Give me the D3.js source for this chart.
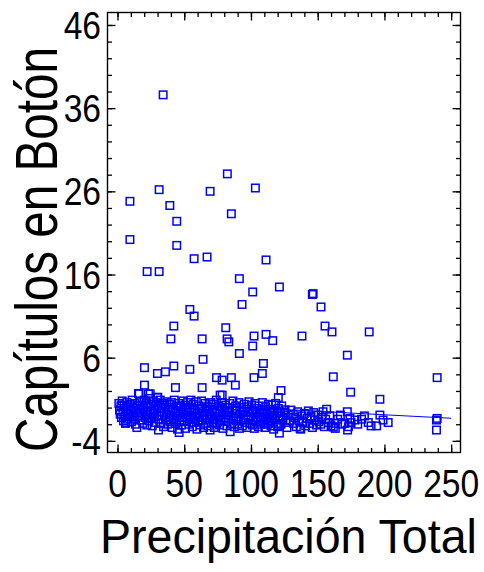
<!DOCTYPE html>
<html>
<head>
<meta charset="utf-8">
<script src="https://cdn.jsdelivr.net/npm/d3@7/dist/d3.min.js"></script>
<style>
  html, body { margin: 0; padding: 0; background: #fff; }
  svg { display: block; }
  text { font-family: "Liberation Sans", Arial, sans-serif; fill: #000; }
</style>
</head>
<body>
<svg id="chart" width="484" height="572"></svg>
<script>
// Axis ticks
const xTicks = [0, 50, 100, 150, 200, 250];
const yTicks = [-4, 6, 16, 26, 36, 46];
const xMinorStep = 10;
const yMinorStep = 2;

// Fitted line: intercept, slope
const ajuste = [0.80, -0.0083];
const ajusteRango = [0, 250];

// Observations: [Precipitación Total, Capítulos en Botón]
const puntosAltos = [
  [34.2, 37.6], [82.3, 28.1], [31.2, 26.2], [69.4, 26.0], [103.3, 26.4],
  [9.3, 24.8], [39.2, 24.3], [85.3, 23.3], [44.4, 22.4], [9.3, 20.2],
  [44.4, 19.5], [57.4, 17.9], [67.1, 18.1], [111.3, 17.75], [22.2, 16.35],
  [31.2, 16.35], [91.3, 15.5], [101.3, 13.9], [121.3, 14.5], [146.0, 13.6],
  [146.6, 13.7], [93.3, 12.4], [152.5, 12.1], [54.2, 11.8], [57.4, 11.0],
  [42.2, 9.8], [155.5, 9.8], [40.0, 8.26], [63.4, 8.26], [81.1, 9.6],
  [82.1, 8.26], [83.4, 7.9], [102.3, 8.6], [101.3, 7.4], [111.3, 8.8],
  [116.3, 8.05], [138.2, 8.6], [160.7, 9.1], [188.6, 9.1], [91.3, 6.5],
  [172.2, 6.3], [64.1, 5.8], [109.3, 5.3], [20.2, 4.8], [42.2, 5.0],
  [35.9, 4.3], [29.9, 4.1], [54.2, 4.6], [108.5, 4.1], [74.2, 3.6],
  [78.4, 3.3], [85.3, 3.6], [88.3, 2.7], [102.3, 3.6], [161.7, 3.7],
  [239.5, 3.6], [20.2, 2.7], [43.4, 2.4], [63.4, 2.4], [122.5, 2.05],
  [174.7, 1.85], [120.5, 1.2], [196.6, 1.0], [78.4, 1.5], [16.2, 1.65],
  [24.5, 1.65], [29.9, 1.2], [78.4, 0.6], [23.2, 1.65], [76.9, 1.5],
  [15.7, 1.7], [30.2, 1.25]
];

const puntosBajos = [
  [1, 0.5], [1.5, -0.3], [2, -0.8], [2.5, 0.2], [3, -1.2], [3.5, 0.8], [4, -0.5],
  [4.5, -1.6], [5, 0.3], [5.5, -1.0], [6, -1.9], [6.5, -0.2], [7, 0.6], [7.5, -1.4],
  [8, -0.7], [8.5, 0.1], [9, -1.1], [9.5, 0.4], [10, -0.4], [10.5, -1.7], [11, 0.9],
  [11.5, -0.9], [12, -0.1], [12.5, -1.3], [13, 0.5], [13.5, -2.0], [14, -0.6],
  [14.5, -2.4], [15, 0.2], [6.3, -1.8],
  [16, -1.0], [16.5, -0.3], [17, 0.7], [17.5, -1.5], [18, -0.8], [18.5, 0.3],
  [19, -1.9], [19.5, -0.1], [20, 0.9], [20.5, -1.2], [21, -0.5], [21.5, 0.5],
  [22, -2.1], [22.5, -0.9], [23, 0.1], [23.5, -1.6], [24, 1.1], [24.5, -0.4],
  [25, -1.3], [25.5, 0.4], [26, -2.2], [26.5, -0.7], [27, 0.8], [27.5, -1.1],
  [28, -0.2], [28.5, -1.8], [29, 0.6], [29.5, -0.9], [30.7, -2.7], [30.5, 0.2],
  [31, -1.4], [31.5, -0.5], [32, 0.9], [32.5, -1.9], [33, -0.1], [33.5, -1.0],
  [34, 0.5], [34.5, -2.3], [35, -0.6], [35.5, 0.3], [36, -1.5], [36.5, -0.8],
  [37, 0.7], [37.5, -2.0], [38, -0.3], [38.5, -1.2], [39, 0.4], [39.5, -1.7],
  [40, -0.9], [40.5, 0.6], [41, -2.4], [41.5, -0.2], [42, -1.3], [42.5, 0.9],
  [43, -0.6], [43.5, -1.9], [44, 0.2], [44.5, -1.0], [45, -2.6], [45.5, -0.4],
  [46, 0.5], [46.2, -3.0], [46.5, -1.5], [47, -0.8], [47.5, 0.1], [48, -2.1],
  [48.5, -1.1], [49, 0.8], [49.5, -0.5], [50, -1.7], [50.5, 0.3], [51, -2.5],
  [51.5, -0.2], [52, -1.2], [52.5, 0.6], [53, -0.9], [53.5, -2.0], [54, 0.0],
  [54.5, -1.4], [55, 0.9], [55.5, -0.6], [56, -2.3], [56.5, -1.0], [57, 0.4],
  [57.5, -1.8], [58, -0.3], [58.5, -1.3], [59, 0.7], [59.5, -2.6], [60, -0.7],
  [60.5, -1.6], [61, 0.2], [61.5, -1.1], [62, -2.1], [62.5, -0.1], [63, 0.8],
  [63.5, -1.5], [64, -0.5], [64.5, -2.4], [65, -0.9], [65.5, 0.5], [66, -1.9],
  [66.5, -0.3], [67, -1.2], [67.5, 0.1], [68, -2.2], [68.5, -0.7], [69, -1.4],
  [69.4, -2.7], [69.8, 0.6],
  [70.5, -1.0], [71, -0.2], [71.5, -1.8], [72, 0.4], [72.5, -2.4], [73, -0.6],
  [73.5, -1.3], [74, 0.9], [74.5, -1.9], [75, -0.4], [75.5, -1.1], [76, 0.2],
  [76.5, -2.1], [77, -0.8], [77.5, -1.5], [78, 0.6], [78.5, -0.1], [79, -2.5],
  [79.5, -1.2], [80, -0.5], [80.5, 0.3], [81, -1.7], [81.5, -0.9], [82, -2.2],
  [82.5, 0.0], [83, -1.4], [83.5, -0.6], [84, 0.5], [84.4, -2.9], [85, -1.0],
  [85.5, -1.9], [86, -0.3], [86.5, 0.8], [87, -1.3], [87.5, -2.3], [88, -0.7],
  [88.5, 0.2], [89, -1.6], [89.5, -0.4], [90, -2.0], [90.5, -1.1], [91, 0.6],
  [91.3, -2.5], [92, -0.8], [92.5, -1.5], [93, 0.0], [93.5, -2.2], [94, -0.5],
  [94.5, -1.2], [95, 0.4], [95.5, -1.8], [96, -0.9], [96.8, 0.1], [97, -2.4],
  [97.5, -0.2], [98, -1.4], [98.5, 0.7], [99, -0.6], [99.5, -1.9],
  [100, -1.1], [100.5, 0.3], [101, -2.1], [101.5, -0.4], [102, -1.5], [102.5, -2.5],
  [103, 0.5], [103.5, -0.8], [104, -1.7], [104.3, -0.1], [105, -1.2], [105.5, -2.3],
  [106, 0.2], [106.5, -0.6], [107, -1.4], [107.5, -2.0], [108, -0.3], [108.5, 0.6],
  [109, -1.0], [109.5, -1.8], [110, -0.5], [110.5, -2.4], [111, 0.1], [111.5, -1.3],
  [112, -0.7], [112.5, -2.0], [113, 0.4], [113.5, -1.1], [114, -1.6], [114.5, -0.2],
  [115, -2.2], [115.6, 0.3], [116, -0.9], [116.5, -1.4], [117, -2.6], [117.5, -0.4],
  [118, -1.2], [118.5, 0.5], [119, -1.9], [119.5, -0.7], [120, -2.3], [120.5, -0.1],
  [121, -1.5], [121.3, -3.07], [121.8, -0.5], [122, -1.0], [122.5, -2.0], [123, 0.2],
  [124, -1.3], [125, -0.6], [125.5, -0.27], [126, -1.8], [127, -2.4], [128, -0.9],
  [129, -1.6], [130, -0.3],
  [131.7, -0.8], [132, -1.9], [133, -1.2], [134, -2.3], [135, -0.5], [136, -1.6],
  [136.8, -2.5], [137.3, -2.6], [138, -1.0], [139, -1.8], [140, -0.7], [141, -2.2],
  [142, -1.3], [143, -0.4], [144, -1.9], [145, -1.1], [146, -2.4], [147, -0.6],
  [148, -1.5], [149, -2.1], [150, -0.9], [151, -1.7], [152.3, -2.0], [153, -1.2],
  [154, -0.5], [155, -2.3], [156, -1.4], [156.7, -0.2], [158, -1.8], [159, -1.0],
  [160, -2.2], [161.7, -2.35], [163, -1.9], [163.2, -2.5], [165, -1.4], [167, -0.9],
  [168, -2.0], [170.4, -1.9], [172.2, -0.5], [172.4, -2.7], [173, -2.3], [174.2, -1.3],
  [175, -1.8], [177.9, -1.5], [180, -2.0], [182.9, -1.4], [185, -1.0], [187.9, -1.8],
  [190, -2.2], [194.2, -2.2], [196.6, -0.9], [199, -1.5], [202.8, -1.8],
  [239, -1.5], [239.5, -1.3], [239, -2.7]
];

const puntos = puntosAltos.concat(puntosBajos);

const svg = d3.select("#chart");

// Plot frame in pixels
const frame = { left: 107.5, right: 460.5, top: 12.5, bottom: 452.5 };

const x = d3.scaleLinear().domain([-7.5, 257]).range([frame.left, frame.right]);
const y = d3.scaleLinear().domain([-5.4, 47.5]).range([frame.bottom, frame.top]);

const tickColor = "#000";
const majorLen = 8, minorLen = 4.5;

const xMinor = d3.range(xTicks[0], xTicks[xTicks.length - 1] + 0.1, xMinorStep);
const yMinor = d3.range(yTicks[0], yTicks[yTicks.length - 1] + 0.1, yMinorStep);

function styleAxis(g) {
  g.select(".domain").remove();
  g.selectAll(".tick line").attr("stroke", tickColor).attr("stroke-width", 1.3);
}

// Inward ticks on all four sides
function addTicks(axisFn, scale, values, len, transform) {
  svg.append("g")
    .attr("transform", transform)
    .call(axisFn(scale).tickValues(values).tickSize(-len).tickSizeOuter(0).tickFormat(""))
    .call(styleAxis);
}
addTicks(d3.axisBottom, x, xMinor, minorLen, `translate(0,${frame.bottom})`);
addTicks(d3.axisBottom, x, xTicks, majorLen, `translate(0,${frame.bottom})`);
addTicks(d3.axisTop, x, xMinor, minorLen, `translate(0,${frame.top})`);
addTicks(d3.axisTop, x, xTicks, majorLen, `translate(0,${frame.top})`);
addTicks(d3.axisLeft, y, yMinor, minorLen, `translate(${frame.left},0)`);
addTicks(d3.axisLeft, y, yTicks, majorLen, `translate(${frame.left},0)`);
addTicks(d3.axisRight, y, yMinor, minorLen, `translate(${frame.right},0)`);
addTicks(d3.axisRight, y, yTicks, majorLen, `translate(${frame.right},0)`);

// Frame
svg.append("rect")
  .attr("x", frame.left).attr("y", frame.top)
  .attr("width", frame.right - frame.left)
  .attr("height", frame.bottom - frame.top)
  .attr("fill", "none").attr("stroke", "#000").attr("stroke-width", 1.4);

// Tick labels (narrow lettering)
const labelSize = 39.5, squeeze = 0.85;

svg.append("g").selectAll("text")
  .data(xTicks).join("text")
  .attr("transform", d => `translate(${x(d)},${frame.bottom + 44.5}) scale(${squeeze},1)`)
  .attr("text-anchor", "middle")
  .attr("font-size", labelSize)
  .text(d => d);

svg.append("g").selectAll("text")
  .data(yTicks).join("text")
  .attr("transform", d => `translate(${frame.left - 6.5},${y(d) + 14}) scale(${squeeze},1)`)
  .attr("text-anchor", "end")
  .attr("font-size", labelSize)
  .text(d => d);

// Axis titles, squeezed horizontally to a target run length
function titulo(texto, size, length, place) {
  const t = svg.append("text").attr("font-size", size).text(texto);
  const natural = t.node().getComputedTextLength();
  t.attr("transform", `${place} scale(${length / natural},1)`);
  return t;
}
titulo("Precipitación Total", 49, 377, "translate(100,553)");
titulo("Capítulos en Botón", 58.5, 405, "translate(57,452) rotate(-90)");

// Data markers
const side = 7.5;
svg.append("g")
  .selectAll("rect")
  .data(puntos).join("rect")
  .attr("x", d => x(d[0]) - side / 2)
  .attr("y", d => y(d[1]) - side / 2)
  .attr("width", side).attr("height", side)
  .attr("fill", "none")
  .attr("stroke", "#0000ff")
  .attr("stroke-width", 1.5);

// Fitted line
const linea = d3.line().x(d => x(d)).y(d => y(ajuste[0] + ajuste[1] * d));
svg.append("path")
  .attr("d", linea(ajusteRango))
  .attr("fill", "none")
  .attr("stroke", "#0000ff")
  .attr("stroke-width", 1.1);
</script>
</body>
</html>
